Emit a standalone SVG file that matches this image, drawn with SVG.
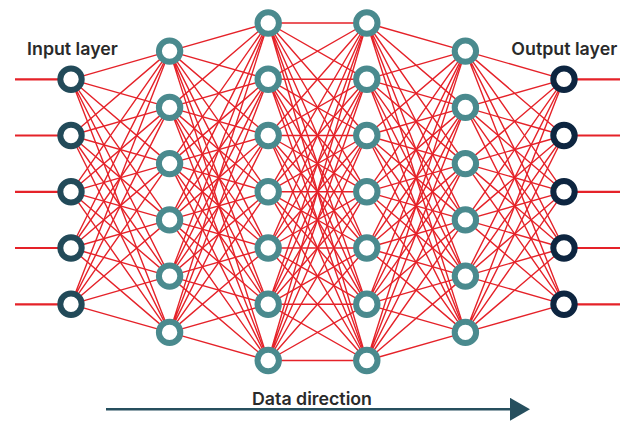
<svg xmlns="http://www.w3.org/2000/svg" width="628" height="421" viewBox="0 0 628 421">
<style>
.bg{fill:#ffffff}
.conn path{fill:none;stroke:#e52229;stroke-width:1.4;stroke-linecap:butt}
.conn path.stub{stroke:#e52229;stroke-width:2.2}
.arrow path.dir{fill:none;stroke:#264f5e;stroke-width:2.6}
.node circle{fill:#ffffff;stroke-width:6}
.in circle{stroke:#224a59}
.hid circle{stroke:#4a8a8e}
.out circle{stroke:#0d2540}
.lbl{font-family:Inter,Roboto,"Liberation Sans",sans-serif;font-weight:600;font-size:17.8px;fill:#2a2a2a;text-anchor:middle}
</style>
<defs>
<marker id="ah" markerUnits="userSpaceOnUse" markerWidth="22" markerHeight="24" refX="0" refY="11.5" orient="auto">
<path d="M0 0L20 11.5L0 23Z" fill="#264f5e"/>
</marker>
</defs>
<rect class="bg" x="0" y="0" width="628" height="421"/>
<g id="connectors" class="conn">
<path d="M71 79.3L169.6 51.1M71 79.3L169.6 107.4M71 79.3L169.6 163.6M71 79.3L169.6 219.9M71 79.3L169.6 276.1M71 79.3L169.6 332.4"/>
<path d="M71 135.5L169.6 51.1M71 135.5L169.6 107.4M71 135.5L169.6 163.6M71 135.5L169.6 219.9M71 135.5L169.6 276.1M71 135.5L169.6 332.4"/>
<path d="M71 191.8L169.6 51.1M71 191.8L169.6 107.4M71 191.8L169.6 163.6M71 191.8L169.6 219.9M71 191.8L169.6 276.1M71 191.8L169.6 332.4"/>
<path d="M71 248L169.6 51.1M71 248L169.6 107.4M71 248L169.6 163.6M71 248L169.6 219.9M71 248L169.6 276.1M71 248L169.6 332.4"/>
<path d="M71 304.3L169.6 51.1M71 304.3L169.6 107.4M71 304.3L169.6 163.6M71 304.3L169.6 219.9M71 304.3L169.6 276.1M71 304.3L169.6 332.4"/>
<path d="M169.6 51.1L268.2 23M169.6 51.1L268.2 79.3M169.6 51.1L268.2 135.5M169.6 51.1L268.2 191.8M169.6 51.1L268.2 248M169.6 51.1L268.2 304.3M169.6 51.1L268.2 360.5"/>
<path d="M169.6 107.4L268.2 23M169.6 107.4L268.2 79.3M169.6 107.4L268.2 135.5M169.6 107.4L268.2 191.8M169.6 107.4L268.2 248M169.6 107.4L268.2 304.3M169.6 107.4L268.2 360.5"/>
<path d="M169.6 163.6L268.2 23M169.6 163.6L268.2 79.3M169.6 163.6L268.2 135.5M169.6 163.6L268.2 191.8M169.6 163.6L268.2 248M169.6 163.6L268.2 304.3M169.6 163.6L268.2 360.5"/>
<path d="M169.6 219.9L268.2 23M169.6 219.9L268.2 79.3M169.6 219.9L268.2 135.5M169.6 219.9L268.2 191.8M169.6 219.9L268.2 248M169.6 219.9L268.2 304.3M169.6 219.9L268.2 360.5"/>
<path d="M169.6 276.1L268.2 23M169.6 276.1L268.2 79.3M169.6 276.1L268.2 135.5M169.6 276.1L268.2 191.8M169.6 276.1L268.2 248M169.6 276.1L268.2 304.3M169.6 276.1L268.2 360.5"/>
<path d="M169.6 332.4L268.2 23M169.6 332.4L268.2 79.3M169.6 332.4L268.2 135.5M169.6 332.4L268.2 191.8M169.6 332.4L268.2 248M169.6 332.4L268.2 304.3M169.6 332.4L268.2 360.5"/>
<path d="M268.2 23L366.8 23M268.2 23L366.8 79.3M268.2 23L366.8 135.5M268.2 23L366.8 191.8M268.2 23L366.8 248M268.2 23L366.8 304.3M268.2 23L366.8 360.5"/>
<path d="M268.2 79.3L366.8 23M268.2 79.3L366.8 79.3M268.2 79.3L366.8 135.5M268.2 79.3L366.8 191.8M268.2 79.3L366.8 248M268.2 79.3L366.8 304.3M268.2 79.3L366.8 360.5"/>
<path d="M268.2 135.5L366.8 23M268.2 135.5L366.8 79.3M268.2 135.5L366.8 135.5M268.2 135.5L366.8 191.8M268.2 135.5L366.8 248M268.2 135.5L366.8 304.3M268.2 135.5L366.8 360.5"/>
<path d="M268.2 191.8L366.8 23M268.2 191.8L366.8 79.3M268.2 191.8L366.8 135.5M268.2 191.8L366.8 191.8M268.2 191.8L366.8 248M268.2 191.8L366.8 304.3M268.2 191.8L366.8 360.5"/>
<path d="M268.2 248L366.8 23M268.2 248L366.8 79.3M268.2 248L366.8 135.5M268.2 248L366.8 191.8M268.2 248L366.8 248M268.2 248L366.8 304.3M268.2 248L366.8 360.5"/>
<path d="M268.2 304.3L366.8 23M268.2 304.3L366.8 79.3M268.2 304.3L366.8 135.5M268.2 304.3L366.8 191.8M268.2 304.3L366.8 248M268.2 304.3L366.8 304.3M268.2 304.3L366.8 360.5"/>
<path d="M268.2 360.5L366.8 23M268.2 360.5L366.8 79.3M268.2 360.5L366.8 135.5M268.2 360.5L366.8 191.8M268.2 360.5L366.8 248M268.2 360.5L366.8 304.3M268.2 360.5L366.8 360.5"/>
<path d="M366.8 23L465.4 51.1M366.8 23L465.4 107.4M366.8 23L465.4 163.6M366.8 23L465.4 219.9M366.8 23L465.4 276.1M366.8 23L465.4 332.4"/>
<path d="M366.8 79.3L465.4 51.1M366.8 79.3L465.4 107.4M366.8 79.3L465.4 163.6M366.8 79.3L465.4 219.9M366.8 79.3L465.4 276.1M366.8 79.3L465.4 332.4"/>
<path d="M366.8 135.5L465.4 51.1M366.8 135.5L465.4 107.4M366.8 135.5L465.4 163.6M366.8 135.5L465.4 219.9M366.8 135.5L465.4 276.1M366.8 135.5L465.4 332.4"/>
<path d="M366.8 191.8L465.4 51.1M366.8 191.8L465.4 107.4M366.8 191.8L465.4 163.6M366.8 191.8L465.4 219.9M366.8 191.8L465.4 276.1M366.8 191.8L465.4 332.4"/>
<path d="M366.8 248L465.4 51.1M366.8 248L465.4 107.4M366.8 248L465.4 163.6M366.8 248L465.4 219.9M366.8 248L465.4 276.1M366.8 248L465.4 332.4"/>
<path d="M366.8 304.3L465.4 51.1M366.8 304.3L465.4 107.4M366.8 304.3L465.4 163.6M366.8 304.3L465.4 219.9M366.8 304.3L465.4 276.1M366.8 304.3L465.4 332.4"/>
<path d="M366.8 360.5L465.4 51.1M366.8 360.5L465.4 107.4M366.8 360.5L465.4 163.6M366.8 360.5L465.4 219.9M366.8 360.5L465.4 276.1M366.8 360.5L465.4 332.4"/>
<path d="M465.4 51.1L564 79.3M465.4 51.1L564 135.5M465.4 51.1L564 191.8M465.4 51.1L564 248M465.4 51.1L564 304.3"/>
<path d="M465.4 107.4L564 79.3M465.4 107.4L564 135.5M465.4 107.4L564 191.8M465.4 107.4L564 248M465.4 107.4L564 304.3"/>
<path d="M465.4 163.6L564 79.3M465.4 163.6L564 135.5M465.4 163.6L564 191.8M465.4 163.6L564 248M465.4 163.6L564 304.3"/>
<path d="M465.4 219.9L564 79.3M465.4 219.9L564 135.5M465.4 219.9L564 191.8M465.4 219.9L564 248M465.4 219.9L564 304.3"/>
<path d="M465.4 276.1L564 79.3M465.4 276.1L564 135.5M465.4 276.1L564 191.8M465.4 276.1L564 248M465.4 276.1L564 304.3"/>
<path d="M465.4 332.4L564 79.3M465.4 332.4L564 135.5M465.4 332.4L564 191.8M465.4 332.4L564 248M465.4 332.4L564 304.3"/>
<path class="stub" d="M15 79.3H71M15 135.5H71M15 191.8H71M15 248H71M15 304.3H71"/>
<path class="stub" d="M564 79.3H620M564 135.5H620M564 191.8H620M564 248H620M564 304.3H620"/>
</g>
<g id="data-direction-arrow" class="arrow">
<path class="dir" d="M106 409.3H510" marker-end="url(#ah)"/>
</g>
<g id="input-layer" class="node in">
<circle id="in1" cx="71" cy="79.3" r="10.7"/>
<circle id="in2" cx="71" cy="135.5" r="10.7"/>
<circle id="in3" cx="71" cy="191.8" r="10.7"/>
<circle id="in4" cx="71" cy="248" r="10.7"/>
<circle id="in5" cx="71" cy="304.3" r="10.7"/>
</g>
<g id="hidden-1" class="node hid">
<circle id="h1n1" cx="169.6" cy="51.1" r="10.7"/>
<circle id="h1n2" cx="169.6" cy="107.4" r="10.7"/>
<circle id="h1n3" cx="169.6" cy="163.6" r="10.7"/>
<circle id="h1n4" cx="169.6" cy="219.9" r="10.7"/>
<circle id="h1n5" cx="169.6" cy="276.1" r="10.7"/>
<circle id="h1n6" cx="169.6" cy="332.4" r="10.7"/>
</g>
<g id="hidden-2" class="node hid">
<circle id="h2n1" cx="268.2" cy="23" r="10.7"/>
<circle id="h2n2" cx="268.2" cy="79.3" r="10.7"/>
<circle id="h2n3" cx="268.2" cy="135.5" r="10.7"/>
<circle id="h2n4" cx="268.2" cy="191.8" r="10.7"/>
<circle id="h2n5" cx="268.2" cy="248" r="10.7"/>
<circle id="h2n6" cx="268.2" cy="304.3" r="10.7"/>
<circle id="h2n7" cx="268.2" cy="360.5" r="10.7"/>
</g>
<g id="hidden-3" class="node hid">
<circle id="h3n1" cx="366.8" cy="23" r="10.7"/>
<circle id="h3n2" cx="366.8" cy="79.3" r="10.7"/>
<circle id="h3n3" cx="366.8" cy="135.5" r="10.7"/>
<circle id="h3n4" cx="366.8" cy="191.8" r="10.7"/>
<circle id="h3n5" cx="366.8" cy="248" r="10.7"/>
<circle id="h3n6" cx="366.8" cy="304.3" r="10.7"/>
<circle id="h3n7" cx="366.8" cy="360.5" r="10.7"/>
</g>
<g id="hidden-4" class="node hid">
<circle id="h4n1" cx="465.4" cy="51.1" r="10.7"/>
<circle id="h4n2" cx="465.4" cy="107.4" r="10.7"/>
<circle id="h4n3" cx="465.4" cy="163.6" r="10.7"/>
<circle id="h4n4" cx="465.4" cy="219.9" r="10.7"/>
<circle id="h4n5" cx="465.4" cy="276.1" r="10.7"/>
<circle id="h4n6" cx="465.4" cy="332.4" r="10.7"/>
</g>
<g id="output-layer" class="node out">
<circle id="out1" cx="564" cy="79.3" r="10.7"/>
<circle id="out2" cx="564" cy="135.5" r="10.7"/>
<circle id="out3" cx="564" cy="191.8" r="10.7"/>
<circle id="out4" cx="564" cy="248" r="10.7"/>
<circle id="out5" cx="564" cy="304.3" r="10.7"/>
</g>
<g id="labels">
<text class="lbl" x="72.5" y="55">Input layer</text>
<text class="lbl" x="564.3" y="55">Output layer</text>
<text class="lbl" x="312" y="405">Data direction</text>
</g>
</svg>
